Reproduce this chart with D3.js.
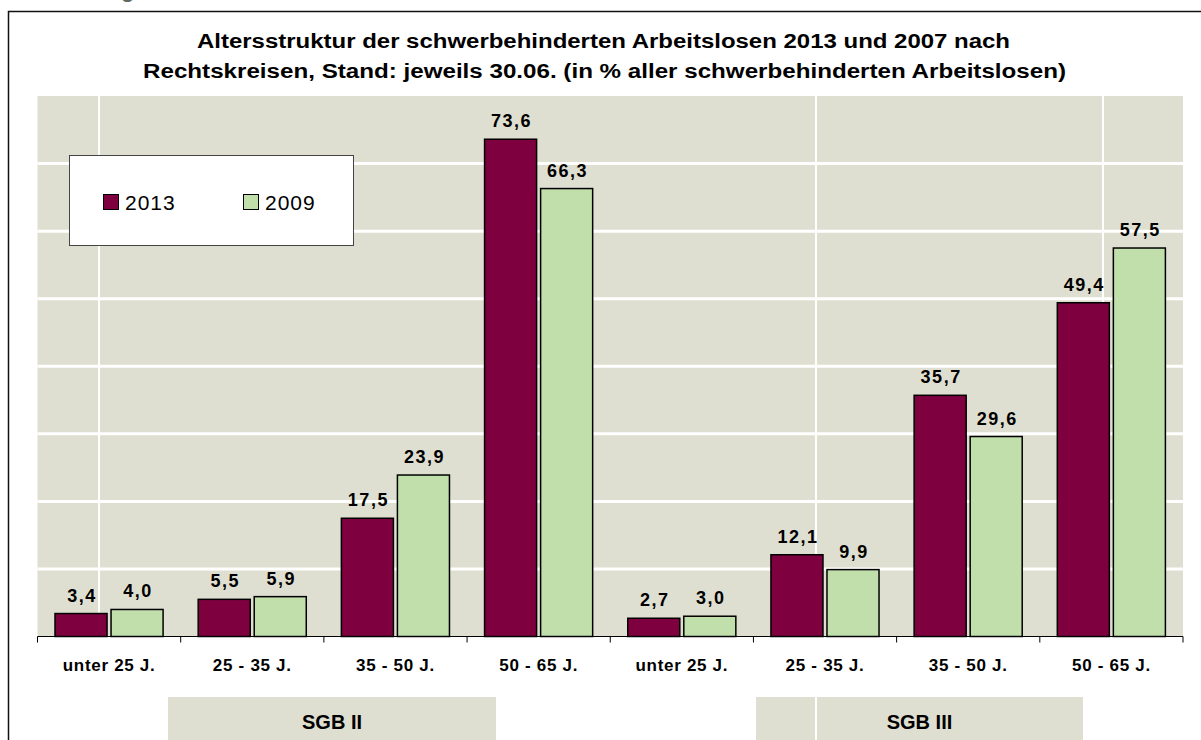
<!DOCTYPE html>
<html><head><meta charset="utf-8">
<script src="https://cdn.jsdelivr.net/npm/d3@7"></script>
<style>
html,body{margin:0;padding:0;background:#fff;}
svg{display:block;font-family:"Liberation Sans",Arial,sans-serif;}
</style></head>
<body>
<svg id="chart" width="1201" height="740"></svg>
<script>
const categories = ["unter 25 J.","25 - 35 J.","35 - 50 J.","50 - 65 J.","unter 25 J.","25 - 35 J.","35 - 50 J.","50 - 65 J."];
const groups = ["SGB II","SGB III"];
const seriesNames = ["2013","2009"];
const values2013 = [3.4, 5.5, 17.5, 73.6, 2.7, 12.1, 35.7, 49.4];
const values2009 = [4.0, 5.9, 23.9, 66.3, 3.0, 9.9, 29.6, 57.5];
const yTicks = [10,20,30,40,50,60,70];
const titleLines = ["Altersstruktur der schwerbehinderten Arbeitslosen 2013 und 2007 nach",
                    "Rechtskreisen, Stand: jeweils 30.06. (in % aller schwerbehinderten Arbeitslosen)"];

const colors = {"2013":"#7F003F","2009":"#C1DFAB"};
const bg = "#DFDFD1";
const svg = d3.select("#chart");

// partial glyph from cropped heading above
svg.append("text").attr("x",121).attr("y",-3).attr("font-size",22).attr("font-weight","bold")
  .attr("fill","#5f6b62").text("g");

// outer frame
svg.append("path").attr("d","M8.5,740 V11.5 H1201").attr("fill","none").attr("stroke","#111").attr("stroke-width",1.5);

// title
const tl = [{x0:197,x1:1010,y:48},{x0:143,x1:1066,y:78}];
titleLines.forEach((t,i)=>{
  svg.append("text").attr("x",tl[i].x0).attr("y",tl[i].y)
    .attr("font-size",20).attr("font-weight","bold").attr("fill","#000")
    .attr("textLength",tl[i].x1-tl[i].x0).attr("lengthAdjust","spacingAndGlyphs").text(t);
});

const pL=37.5,pR=1183,pT=96,pB=636.5;
const y = d3.scaleLinear().domain([0,80]).range([pB,pT]);
const x = d3.scaleBand().domain(d3.range(categories.length)).range([pL,pR]).padding(0);
const inner = d3.scaleBand().domain(seriesNames).range([17.5,x.bandwidth()-17.6]).paddingInner(4/56).paddingOuter(0);

// plot background
svg.append("rect").attr("x",pL).attr("y",pT).attr("width",pR-pL).attr("height",pB-pT).attr("fill",bg);

// group label boxes
const groupBoxes=[{x0:168,x1:496},{x0:756,x1:1083}];
groups.forEach((g,i)=>{
  svg.append("rect").attr("x",groupBoxes[i].x0).attr("y",697).attr("width",groupBoxes[i].x1-groupBoxes[i].x0).attr("height",50).attr("fill",bg);
  svg.append("text").attr("x",(groupBoxes[i].x0+groupBoxes[i].x1)/2).attr("y",729)
    .attr("text-anchor","middle").attr("font-size",20).attr("font-weight","bold").text(g);
});

// horizontal gridlines
svg.append("g").selectAll("line").data(yTicks).join("line")
  .attr("x1",pL).attr("x2",pR).attr("y1",d=>y(d)).attr("y2",d=>y(d))
  .attr("stroke","#fff").attr("stroke-width",3);
// vertical white lines
[99,816,1103].forEach(vx=>{
  svg.append("line").attr("x1",vx).attr("x2",vx).attr("y1",pT).attr("y2",740).attr("stroke","#fff").attr("stroke-width",2);
});

// legend
const lg = svg.append("g");
lg.append("rect").attr("x",69.5).attr("y",155.5).attr("width",284).attr("height",90).attr("fill","#fff").attr("stroke","#444").attr("stroke-width",1);
const lgx=[103,243];
seriesNames.forEach((s,i)=>{
  lg.append("rect").attr("x",lgx[i]+0.5).attr("y",194.5).attr("width",15).attr("height",15).attr("fill",colors[s]).attr("stroke","#000").attr("stroke-width",1);
  lg.append("text").attr("x",lgx[i]+22).attr("y",209.5).attr("font-size",21).attr("letter-spacing","1px").attr("fill","#000").text(s);
});

// bars
const data = [];
categories.forEach((c,i)=>{
  data.push({i,s:"2013",v:values2013[i]});
  data.push({i,s:"2009",v:values2009[i]});
});
svg.append("g").selectAll("rect").data(data).join("rect")
  .attr("x",d=>x(d.i)+inner(d.s)).attr("width",inner.bandwidth())
  .attr("y",d=>y(d.v)).attr("height",d=>y(0)-y(d.v))
  .attr("fill",d=>colors[d.s]).attr("stroke","#000").attr("stroke-width",1.5);

// value labels
const fmt = v => d3.format(".1f")(v).replace(".",",");
svg.append("g").selectAll("text").data(data).join("text")
  .attr("x",d=>x(d.i)+inner(d.s)+inner.bandwidth()/2+1).attr("y",d=>y(d.v)-12)
  .attr("text-anchor","middle").attr("font-size",18).attr("font-weight","bold").attr("letter-spacing","1.5px")
  .attr("fill","#000").text(d=>fmt(d.v));

// x axis
const axis = svg.append("g");
axis.append("line").attr("x1",pL).attr("x2",pR).attr("y1",pB).attr("y2",pB).attr("stroke","#000").attr("stroke-width",1);
const tickPos = d3.range(categories.length).map(i=>x(i)).concat([pR]);
axis.selectAll("line.t").data(tickPos).join("line").attr("class","t")
  .attr("x1",d=>d).attr("x2",d=>d).attr("y1",pB).attr("y2",pB+6).attr("stroke","#000").attr("stroke-width",1);
axis.selectAll("text").data(categories).join("text")
  .attr("x",(d,i)=>x(i)+x.bandwidth()/2).attr("y",671)
  .attr("text-anchor","middle").attr("font-size",17).attr("font-weight","bold").attr("letter-spacing","0.7px")
  .attr("fill","#000").text(d=>d);
</script>
</body></html>
